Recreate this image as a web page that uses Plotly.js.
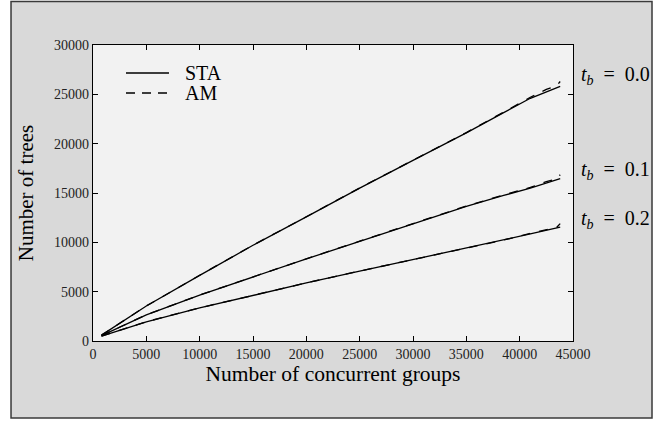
<!DOCTYPE html>
<html>
<head>
<meta charset="utf-8">
<script src="https://cdn.plot.ly/plotly-3.0.1.min.js"></script>
<style>html,body{margin:0;padding:0;background:#fff;}#chart{width:669px;height:421px;}</style>
</head>
<body>
<div id="chart"></div>
<script>
// Number of concurrent groups
const groups = [800, 5000, 10000, 15000, 20000, 25000, 30000, 35000, 38500, 41000, 43800];
const groupsAM = [800, 5000, 10000, 15000, 20000, 25000, 30000, 35000, 38500, 41000, 42500, 43500, 43800];
// Number of trees, STA
const sta00 = [600, 3550, 6650, 9700, 12580, 15500, 18300, 21100, 23150, 24600, 25800];
const sta01 = [550, 2650, 4650, 6500, 8320, 10100, 11850, 13650, 14750, 15500, 16450];
const sta02 = [500, 1950, 3350, 4650, 5880, 7070, 8250, 9450, 10200, 10850, 11550];
// Number of trees, AM
const am00 = [600, 3550, 6660, 9710, 12590, 15510, 18320, 21120, 23200, 24700, 25500, 25900, 26300];
const am01 = [550, 2650, 4660, 6510, 8330, 10120, 11870, 13680, 14800, 15560, 16150, 16450, 16850];
const am02 = [500, 1950, 3360, 4660, 5890, 7090, 8270, 9470, 10230, 10900, 11300, 11550, 11900];
const tbLabels = ['0.0', '0.1', '0.2'];
const tbLabelY = [0.8986, 0.5777, 0.4088];
const legendNames = ['STA', 'AM'];
const legendDash = ['solid', 'dash'];
const legendY = [0.9054, 0.8378];
const xTitle = 'Number of concurrent groups';
const yTitle = 'Number of trees';

const serif = "'Liberation Serif', 'Times New Roman', serif";
const lineW = 1.3;
function tr(x, y, dash, name) {
  return {x: x, y: y, type: 'scatter', mode: 'lines', name: name, showlegend: false,
    line: {color: '#000', width: lineW, dash: dash}, hoverinfo: 'x+y'};
}
const data = [
  tr(groups, sta00, 'solid', 'STA'),
  tr(groupsAM, am00, 'dash', 'AM'),
  tr(groups, sta01, 'solid', 'STA'),
  tr(groupsAM, am01, 'dash', 'AM'),
  tr(groups, sta02, 'solid', 'STA'),
  tr(groupsAM, am02, 'dash', 'AM')
];

const axisCommon = {
  showgrid: false, zeroline: false, showline: true, linecolor: '#000', linewidth: 1.2,
  mirror: 'ticks', ticks: 'inside', ticklen: 5, tickwidth: 1, tickcolor: '#000',
  tickformat: 'd', separatethousands: false,
  tickfont: {family: serif, size: 14, color: '#222'}
};

const annotations = tbLabels.map((t, i) => ({
  xref: 'paper', yref: 'paper', x: 1.0125, y: tbLabelY[i], xanchor: 'left', yanchor: 'middle',
  showarrow: false, text: '<i>t</i><sub><i>b</i></sub>&nbsp;&nbsp;=&nbsp;&nbsp;' + t,
  font: {family: serif, size: 20, color: '#000'}
}));
legendNames.forEach((n, i) => annotations.push({
  xref: 'paper', yref: 'paper', x: 0.1875, y: legendY[i], xanchor: 'left', yanchor: 'middle',
  showarrow: false, text: n, font: {family: serif, size: 20, color: '#000'}
}));

const shapes = [
  {type: 'rect', xref: 'paper', yref: 'paper', x0: -0.1708, x1: 1.1646, y0: -0.2601, y1: 1.147,
   fillcolor: '#d9d9d9', line: {color: '#3a3a3a', width: 1.5}, layer: 'below'},
  {type: 'rect', xref: 'paper', yref: 'paper', x0: 0, x1: 1, y0: 0, y1: 1,
   fillcolor: '#f2f2f2', line: {width: 0}, layer: 'below'}
];
legendNames.forEach((n, i) => shapes.push({
  type: 'line', xref: 'paper', yref: 'paper', x0: 0.06875, x1: 0.1583, y0: legendY[i], y1: legendY[i],
  line: {color: '#000', width: lineW, dash: legendDash[i] === 'dash' ? '9px,7px' : 'solid'}
}));

const layout = {
  width: 669, height: 421,
  margin: {l: 93, r: 96, t: 45, b: 80, pad: 0},
  paper_bgcolor: '#fff', plot_bgcolor: '#f2f2f2',
  showlegend: false,
  xaxis: Object.assign({}, axisCommon, {range: [0, 45000], dtick: 5000, tick0: 0,
    title: {text: xTitle, font: {family: serif, size: 21.5, color: '#000'}, standoff: 0}}),
  yaxis: Object.assign({}, axisCommon, {range: [0, 30000], dtick: 5000, tick0: 0,
    title: {text: yTitle, font: {family: serif, size: 21, color: '#000'}, standoff: 14}}),
  shapes: shapes,
  annotations: annotations
};

Plotly.newPlot('chart', data, layout, {displayModeBar: false, staticPlot: true});
</script>
</body>
</html>
